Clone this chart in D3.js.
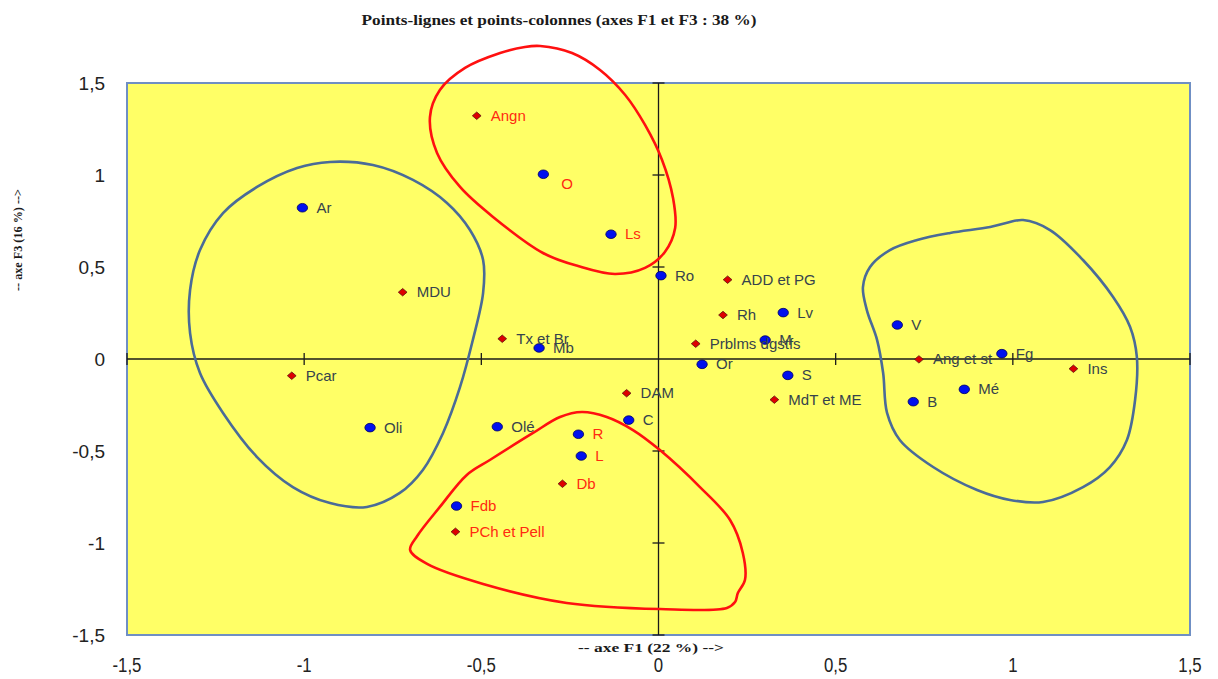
<!DOCTYPE html>
<html>
<head>
<meta charset="utf-8">
<script src="https://cdn.jsdelivr.net/npm/d3@7"></script>
<style>
  html, body { margin: 0; padding: 0; background: #ffffff; }
  svg { display: block; }
</style>
</head>
<body>
<svg id="chart" width="1218" height="679"></svg>
<script>
// Factor map, axes F1 (horizontal) and F3 (vertical)
const titleText = "Points-lignes et points-colonnes (axes F1 et F3 : 38 %)";
const xTitle = "-- axe F1 (22 %) -->";
const yTitle = "-- axe F3 (16 %) -->";
const tickValues = [-1.5, -1, -0.5, 0, 0.5, 1, 1.5];

// Column points (blue discs)
const colLabels = ["Ar", "O", "Ls", "Ro", "Lv", "M", "Mb", "Or", "S", "V", "Fg", "Mé", "B", "C", "Olé", "Oli", "R", "L", "Fdb"];
const colF1 = [-1.005, -0.325, -0.134, 0.007, 0.352, 0.301, -0.337, 0.123, 0.365, 0.674, 0.969, 0.863, 0.719, -0.084, -0.455, -0.814, -0.226, -0.218, -0.570];
const colF3 = [0.822, 1.004, 0.678, 0.453, 0.252, 0.103, 0.060, -0.029, -0.089, 0.185, 0.029, -0.165, -0.232, -0.332, -0.368, -0.373, -0.409, -0.527, -0.799];

// Row points (red diamonds)
const rowLabels = ["Angn", "MDU", "Tx et Br", "Pcar", "DAM", "Db", "PCh et Pell", "ADD et PG", "Rh", "Prblms dgstfs", "MdT et ME", "Ang et st", "Ins"];
const rowF1 = [-0.513, -0.722, -0.441, -1.035, -0.090, -0.271, -0.573, 0.195, 0.182, 0.105, 0.327, 0.735, 1.171];
const rowF3 = [1.322, 0.363, 0.110, -0.091, -0.186, -0.678, -0.939, 0.431, 0.239, 0.083, -0.221, -0.002, -0.053];

// Labels written in red (members of the red groups)
const redLabels = ["Angn", "O", "Ls", "R", "L", "Db", "Fdb", "PCh et Pell"];

// Hand-drawn grouping outlines, in F1/F3 units
const groupLeft = [[-0.927,1.071],[-0.806,1.054],[-0.693,0.973],[-0.597,0.848],[-0.532,0.701],[-0.495,0.538],[-0.495,0.359],[-0.524,0.103],[-0.560,-0.152],[-0.608,-0.402],[-0.665,-0.603],[-0.730,-0.728],[-0.823,-0.804],[-0.927,-0.783],[-1.032,-0.696],[-1.133,-0.533],[-1.229,-0.293],[-1.294,-0.076],[-1.322,0.141],[-1.322,0.375],[-1.294,0.592],[-1.229,0.793],[-1.133,0.935],[-1.020,1.038]];
const groupRight = [[0.981,0.739],[1.029,0.755],[1.105,0.701],[1.198,0.538],[1.283,0.337],[1.331,0.174],[1.350,0.011],[1.345,-0.223],[1.322,-0.440],[1.274,-0.587],[1.198,-0.696],[1.085,-0.777],[0.992,-0.766],[0.899,-0.712],[0.775,-0.587],[0.681,-0.440],[0.645,-0.293],[0.634,-0.076],[0.617,0.103],[0.588,0.266],[0.577,0.391],[0.597,0.500],[0.653,0.592],[0.730,0.647],[0.823,0.685],[0.936,0.717]];
const groupTop = [[-0.334,1.701],[-0.244,1.663],[-0.165,1.571],[-0.094,1.435],[-0.038,1.272],[0.010,1.082],[0.041,0.875],[0.047,0.712],[0.018,0.582],[-0.038,0.495],[-0.123,0.462],[-0.227,0.505],[-0.326,0.576],[-0.467,0.772],[-0.560,0.935],[-0.625,1.120],[-0.645,1.315],[-0.617,1.462],[-0.546,1.582],[-0.447,1.663],[-0.377,1.696]];
const groupBottom = [[-0.216,-0.288],[-0.146,-0.315],[-0.072,-0.386],[0.004,-0.495],[0.117,-0.696],[0.202,-0.875],[0.238,-1.054],[0.244,-1.201],[0.224,-1.272],[0.216,-1.321],[0.193,-1.353],[0.004,-1.359],[-0.259,-1.326],[-0.495,-1.223],[-0.653,-1.114],[-0.701,-1.038],[-0.681,-0.962],[-0.617,-0.804],[-0.541,-0.630],[-0.476,-0.549],[-0.354,-0.402],[-0.278,-0.315]];

const svg = d3.select("#chart");
const plot = { left: 127, right: 1190, top: 83, bottom: 635 };

const x = d3.scaleLinear().domain([-1.5, 1.5]).range([plot.left, plot.right]);
const y = d3.scaleLinear().domain([-1.5, 1.5]).range([plot.bottom, plot.top]);

// Title
svg.append("text")
  .attr("x", 559).attr("y", 25)
  .attr("text-anchor", "middle")
  .attr("font-family", "'Liberation Serif', 'Times New Roman', serif")
  .attr("font-weight", "bold").attr("font-size", 14.5)
  .attr("textLength", 395).attr("lengthAdjust", "spacingAndGlyphs")
  .attr("fill", "#1a1a1a")
  .text(titleText);

// Plot area
svg.append("rect")
  .attr("x", plot.left).attr("y", plot.top)
  .attr("width", plot.right - plot.left).attr("height", plot.bottom - plot.top)
  .attr("fill", "#ffff66")
  .attr("stroke", "#6f8fc4").attr("stroke-width", 2);

// Tick labels, outside the plot area
const fmt = v => String(v).replace(".", ",");
svg.append("g").selectAll("text").data(tickValues).join("text")
  .attr("x", 105).attr("y", d => y(d) + 7)
  .attr("text-anchor", "end")
  .attr("font-family", "'Liberation Sans', Arial, sans-serif")
  .attr("font-size", 19).attr("fill", "#222")
  .text(fmt);

svg.append("g").selectAll("text").data(tickValues).join("text")
  .attr("transform", d => `translate(${x(d)},${672}) scale(0.8,1)`)
  .attr("text-anchor", "middle")
  .attr("font-family", "'Liberation Sans', Arial, sans-serif")
  .attr("font-size", 21).attr("fill", "#222")
  .text(fmt);

// Axis titles
svg.append("text")
  .attr("x", 651).attr("y", 652)
  .attr("text-anchor", "middle")
  .attr("font-family", "'Liberation Serif', 'Times New Roman', serif")
  .attr("font-weight", "bold").attr("font-size", 13)
  .attr("textLength", 146).attr("lengthAdjust", "spacingAndGlyphs")
  .attr("fill", "#1a1a1a")
  .text(xTitle);

svg.append("text")
  .attr("transform", "translate(22,240) rotate(-90)")
  .attr("text-anchor", "middle")
  .attr("font-family", "'Liberation Serif', 'Times New Roman', serif")
  .attr("font-weight", "bold").attr("font-size", 12)
  .attr("textLength", 102).attr("lengthAdjust", "spacingAndGlyphs")
  .attr("fill", "#1a1a1a")
  .text(yTitle);

// Axes through the origin with cross ticks
const axes = svg.append("g").attr("stroke", "#1a1a1a").attr("stroke-width", 1.3);
axes.append("line").attr("x1", x(-1.5)).attr("x2", x(1.5)).attr("y1", y(0)).attr("y2", y(0));
axes.append("line").attr("x1", x(0)).attr("x2", x(0)).attr("y1", y(-1.5)).attr("y2", y(1.5));
axes.selectAll(".tx").data(tickValues.filter(v => v !== 0)).join("line")
  .attr("x1", d => x(d)).attr("x2", d => x(d))
  .attr("y1", y(0) - 6).attr("y2", y(0) + 6);
axes.selectAll(".ty").data(tickValues.filter(v => v !== 0)).join("line")
  .attr("x1", x(0) - 6).attr("x2", x(0) + 6)
  .attr("y1", d => y(d)).attr("y2", d => y(d));

// Points
const cols = colLabels.map((n, i) => ({ name: n, f1: colF1[i], f3: colF3[i] }));
const rows = rowLabels.map((n, i) => ({ name: n, f1: rowF1[i], f3: rowF3[i] }));

svg.append("g").selectAll("ellipse").data(cols).join("ellipse")
  .attr("cx", d => x(d.f1)).attr("cy", d => y(d.f3))
  .attr("rx", 5.2).attr("ry", 4.3)
  .attr("fill", "#0010ee").attr("stroke", "#000060").attr("stroke-width", 0.8);

const diamond = d3.symbol().type(d3.symbolDiamond2).size(44);
svg.append("g").selectAll("path").data(rows).join("path")
  .attr("transform", d => `translate(${x(d.f1)},${y(d.f3)}) scale(1.05,0.9)`)
  .attr("d", diamond)
  .attr("fill", "#dd0000").attr("stroke", "#5a1010").attr("stroke-width", 0.8);

// Point labels
const labelShift = { "O": [18, 11] };
svg.append("g").selectAll("text").data(cols.concat(rows)).join("text")
  .attr("x", d => x(d.f1) + (labelShift[d.name] ? labelShift[d.name][0] : 14))
  .attr("y", d => y(d.f3) + (labelShift[d.name] ? labelShift[d.name][1] : 1))
  .attr("dominant-baseline", "middle")
  .attr("font-family", "'Liberation Sans', Arial, sans-serif")
  .attr("font-size", 15)
  .attr("fill", d => redLabels.includes(d.name) ? "#ff2a10" : "#36434c")
  .text(d => d.name);

// Group outlines
const outline = d3.line().x(d => x(d[0])).y(d => y(d[1])).curve(d3.curveCatmullRomClosed.alpha(0.5));
const groups = [
  { pts: groupLeft, color: "#4a6b98" },
  { pts: groupRight, color: "#4a6b98" },
  { pts: groupTop, color: "#ff1010" },
  { pts: groupBottom, color: "#ff1010" }
];
svg.append("g").selectAll("path").data(groups).join("path")
  .attr("d", d => outline(d.pts))
  .attr("fill", "none")
  .attr("stroke", d => d.color)
  .attr("stroke-width", 2.6)
  .attr("stroke-linejoin", "round");
</script>
</body>
</html>
